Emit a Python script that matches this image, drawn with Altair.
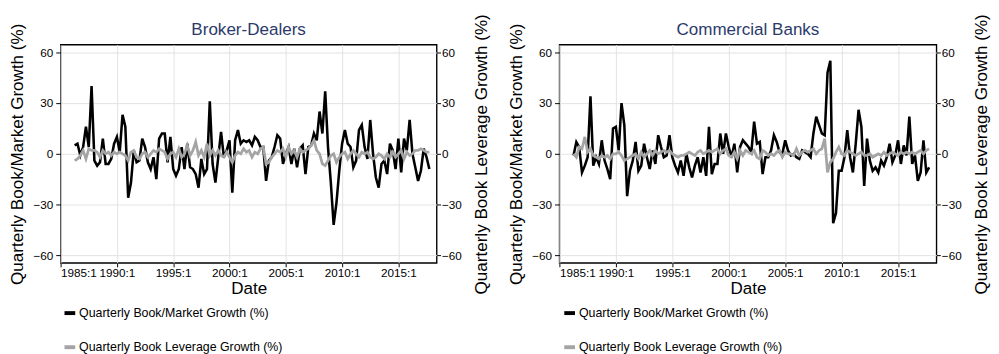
import altair as alt
import pandas as pd

START = 1986.25  # first quarter plotted (1986:2)

S1 = "Quarterly Book/Market Growth (%)"
S2 = "Quarterly Book Leverage Growth (%)"

x_ticks = [1985, 1990, 1995, 2000, 2005, 2010, 2015]
y_ticks = [-60, -30, 0, 30, 60]

bd_bm = [5, 6, -1, 4, 16, 4, 40, -4, -7, -5,
         9, -6, -6, -3, 6, 10, 1, 23, 16, -26,
         -17, 2, -5, -4, 9, 4, -5, -9, -2, -15,
         9, 12, 12, -5, 10, -9, -13, -9, 4, -9,
         6, -8, -9, -12, -20, -3, -12, -9, 31, -6,
         -17, -2, 13, -2, 2, 8, -23, 8, 14, 6,
         8, 7, 8, 5, 10, 8, 4, 4, -16, -4,
         -2, 4, 11, 9, -6, 0, 4, -6, 3, -8,
         3, 5, -12, 4, 5, 12, 8, 25, 12, 37,
         4, -17, -42, -29, -10, 6, 14, 6, 4, -8,
         -4, 14, 17, 4, -3, 20, 0, -14, -20, -6,
         -4, -12, 6, 2, -9, 9, -11, 9, 2, 20,
         0, -8, -16, -10, 3, -2, -9]

bd_lev = [-4, -3, -1, 2, -3, 3, 2, 2, 1, -2,
          2, 0, 1, -1, 1, 0, 1, 0, -1, -4,
          1, 2, -2, -3, 0, 1, -2, 0, 2, 1,
          3, 2, 1, -3, 0, 1, -2, 3, -2, 0,
          5, -1, 2, 7, -1, 2, -2, 6, -1, 2,
          -1, 2, -1, -2, 1, -2, -5, -1, 1, 0,
          3, 1, 2, -2, 1, 0, 3, 4, -6, -5,
          -2, 0, 2, 1, 3, -2, 4, 0, 2, -2,
          3, 1, 2, 3, 5, 8, 2, 0, -6, -7,
          -4, -1, 0, -5, -2, 0, 1, -3, 0, 2,
          0, -2, 1, 0, 1, -2, -3, -2, 0, -1,
          -3, 0, -2, 1, -2, 0, 2, -3, 1, -1,
          0, 2, 2, 3, 2, 1, 1]

cb_bm = [-1, 7, 4, -11, -7, -2, 34, -7, -2, -6,
         8, -4, -9, -15, 15, 16, 2, 30, 17, -25,
         -10, -4, 7, -10, -7, 6, -2, -9, 2, -6,
         11, 4, -2, -1, 11, -2, -7, -11, -4, -13,
         0, -8, -14, -7, -2, -11, -2, -13, 16, -12,
         -6, -6, 12, 0, 12, 4, -2, 6, -11, 4,
         8, 6, 4, 1, 19, 6, 7, -12, -2, -2,
         2, 11, 7, 1, 0, 8, 2, -1, 0, -2,
         -3, 2, 1, 0, -2, 12, 22, 17, 12, 11,
         48, 55, -41, -35, -10, -10, -2, 14, -2, -11,
         6, 26, 16, -19, 9, -4, -10, -8, -11, -4,
         -7, -2, 6, -5, -1, 8, -6, 5, -1, 22,
         -6, -1, -16, -11, 8, -11, -8]

cb_lev = [0, -2, 4, 3, 10, 1, 3, -1, -2, -3,
          -1, -2, -1, -3, 0, 0, 1, -1, -4, -3,
          -2, -1, 0, -3, 1, -2, 0, 2, -1, 2,
          0, 1, 2, 1, 2, 0, -1, -2, -1, -1,
          0, 1, 0, -1, 1, 2, 0, 1, 2, 1,
          2, 3, 0, 2, 3, -1, -2, 1, -3, 2,
          -1, 2, 1, 0, 2, -2, -3, 2, 1, -1,
          0, -1, 1, 2, -2, 1, 0, 0, -1, 3,
          -1, 1, 2, 1, 2, 3, 0, 2, 3, 9,
          -11, -5, -3, 1, 4, 0, -1, 2, 1, 0,
          -1, 0, 1, -1, -1, 0, -2, -1, 0, -1,
          1, -1, 0, 1, 0, -1, 1, 0, 1, 0,
          1, 0, 1, 2, 0, 2, 3]

FONT = "Liberation Sans"


def panel(title, bm, lev, legend_x, width):
    t = [START + 0.25 * i for i in range(len(bm))]
    d1 = pd.DataFrame({"t": t, "v": bm, "s": S1})
    d2 = pd.DataFrame({"t": t, "v": lev, "s": S2})

    xenc = alt.X(
        "t:Q",
        scale=alt.Scale(domain=[1985, 2018.4], nice=False, zero=False),
        axis=alt.Axis(values=x_ticks, labelExpr="datum.value + ':1'", title="Date",
                      grid=True, tickSize=4, labelPadding=1, titlePadding=1,
                      titleFontSize=17.5),
    )
    color = alt.Color(
        "s:N",
        scale=alt.Scale(domain=[S1, S2], range=["#000000", "#a4a4a4"]),
        legend=alt.Legend(orient="none", legendX=legend_x, legendY=268,
                          direction="vertical", title=None),
    )
    ysc = alt.Scale(domain=[-64.5, 64.5], nice=False, zero=False)

    l1 = alt.Chart(d1).mark_line(strokeWidth=2.6).encode(
        x=xenc,
        y=alt.Y("v:Q", scale=ysc,
                axis=alt.Axis(orient="left", title=S1, values=y_ticks, grid=True,
                              tickSize=5, labelPadding=3, titlePadding=3,
                              minExtent=32, maxExtent=32, titleFontSize=17.5)),
        color=color,
    )
    l2 = alt.Chart(d2).mark_line(strokeWidth=2.8).encode(
        x=xenc,
        y=alt.Y("v:Q", scale=ysc,
                axis=alt.Axis(orient="right", title=S2, values=y_ticks, grid=False,
                              tickSize=4, labelPadding=1, titlePadding=15,
                              titleAngle=270, titleBaseline="top",
                              minExtent=22, maxExtent=22, titleFontSize=17.5)),
        color=color,
    )
    return (
        alt.layer(l1, l2)
        .resolve_scale(y="independent")
        .properties(
            width=width,
            height=224,
            title=alt.TitleParams(title, color="#2b3a6a", fontSize=17.5, font=FONT,
                                  fontWeight="normal", offset=6, frame="group", dy=31),
        )
    )


left = panel("Broker-Dealers", bd_bm, bd_lev, 2, 386)
right = panel("Commercial Banks", cb_bm, cb_lev, 3, 387)

chart = (
    alt.hconcat(left, right, spacing=16)
    .resolve_scale(color="independent")
    .properties(padding={"left": 0, "top": 0, "right": 0, "bottom": 0})
    .configure_axis(
        labelFont=FONT, labelFontSize=12, labelColor="#000000",
        titleFont=FONT, titleFontWeight="normal", titleColor="#000000",
        tickColor="#000000", domain=False, gridColor="#e2e2e2", gridWidth=1,
    )
    .configure_view(stroke="#000000", strokeWidth=1.4)
    .configure_legend(
        symbolType="stroke", symbolSize=121, symbolStrokeWidth=4,
        labelFont=FONT, labelFontSize=12.7, labelColor="#000000", labelLimit=0,
        rowPadding=18, padding=0, labelOffset=2,
    )
)

chart.save("out.html", embed_options={"renderer": "svg", "actions": False})
